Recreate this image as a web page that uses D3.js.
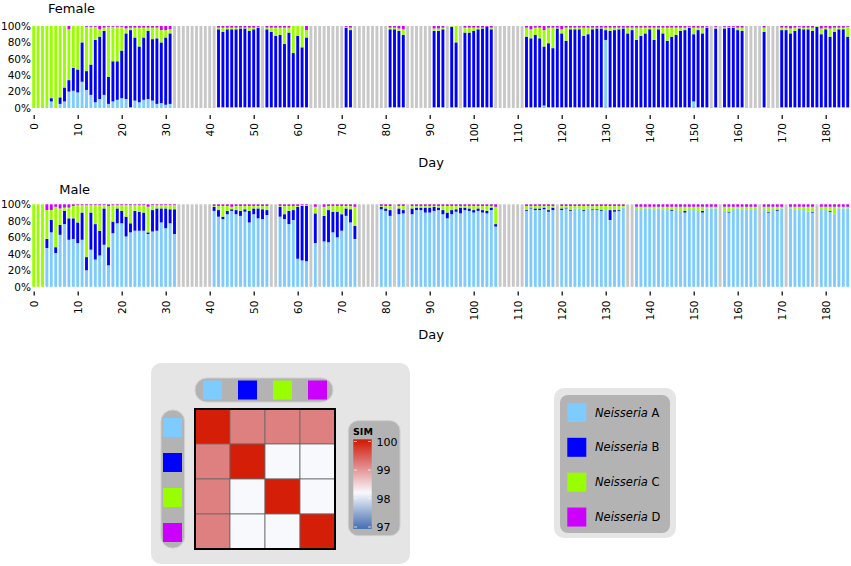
<!DOCTYPE html>
<html>
<head>
<meta charset="utf-8">
<script src="https://cdn.jsdelivr.net/npm/d3@7"></script>
<style>
  body { margin: 0; background: #fff; }
  text { font-family: "DejaVu Sans", sans-serif; }
</style>
</head>
<body>
<svg id="chart" width="851" height="566"></svg>
<script>
// missing sample
const _ = null;

const days = d3.range(0, 186);
const dayTicks = d3.range(0, 181, 10);
const pctTicks = [0, 0.2, 0.4, 0.6, 0.8, 1];
const speciesKeys = ['A', 'B', 'C', 'D'];
const speciesColors = ['#7ecbff', '#0000ff', '#99ff00', '#cc00ff'];
const missingColor = '#c8c8c8';

// Female, % per day (0..185)
const femaleA = [0,0,0,2,8,0,5,8,20,21, 19,32,22,16,7,11,16,5,8,10, 12,11,1,9,7,10,11,9,5,6,
  4,5,_,_,_,_,_,_,_,_, _,_,1,1,1,1,1,1,1,1, 1,1,_,1,1,1,1,1,1,1, 1,1,1,_,_,_,_,_,_,_,
  _,1,1,_,_,_,_,_,_,_, _,1,1,1,1,_,_,_,_,_, _,1,1,1,_,1,1,_,1,1, 1,1,1,1,1,_,_,_,_,_,
  _,_,1,1,1,1,3,1,1,1, 1,1,1,1,1,1,1,1,1,1, 83,1,1,1,1,1,1,1,1,1, 1,1,1,1,1,1,1,1,1,1,
  8,1,1,1,_,1,_,1,1,1, 1,1,_,_,_,_,1,_,_,_, 1,1,1,1,1,1,1,1,1,1, 1,1,1,1,1,1];
const femaleB = [0,0,0,0,4,0,8,17,14,28, 28,48,23,37,76,76,78,33,49,47, 58,80,94,77,68,76,83,75,80,74,
  82,86,_,_,_,_,_,_,_,_, _,_,95,92,95,95,95,96,96,93, 95,97,_,95,92,87,88,77,91,66, 87,73,85,_,_,_,_,_,_,_,
  _,97,94,_,_,_,_,_,_,_, _,95,95,93,88,_,_,_,_,_, _,93,93,95,_,98,79,_,91,91, 93,95,96,98,95,_,_,_,_,_,
  _,_,86,84,88,84,72,78,72,96, 90,81,95,95,95,87,89,95,96,96, 12,93,94,95,96,90,94,82,87,90, 95,82,95,90,81,86,88,93,94,97,
  82,94,90,97,_,96,_,96,97,97, 94,93,_,_,_,_,92,_,_,_, 94,94,90,93,96,95,95,93,98,89, 95,86,92,95,95,86];
const femaleC = [100,100,100,98,88,100,87,75,62,51, 53,20,54,46,16,9,4,61,42,42, 29,6,3,12,23,12,4,14,13,15,
  9,5,_,_,_,_,_,_,_,_, _,_,2,5,2,2,2,1,1,4, 2,1,_,2,5,10,9,20,6,33, 12,26,9,_,_,_,_,_,_,_,
  _,1,3,_,_,_,_,_,_,_, _,2,2,3,7,_,_,_,_,_, _,3,3,2,_,1,20,_,6,6, 4,2,1,0,2,_,_,_,_,_,
  _,_,11,11,9,13,20,19,25,1, 5,16,2,2,2,10,8,2,1,1, 3,4,3,2,1,7,3,15,10,7, 2,15,2,7,16,11,9,4,3,1,
  8,3,7,1,_,2,_,2,1,1, 3,4,_,_,_,_,5,_,_,_, 3,3,6,4,2,2,2,4,1,7, 2,10,5,2,2,12];
const femaleD = [0,0,0,0,0,0,0,0,4,0, 0,0,1,1,1,4,2,1,1,1, 1,3,2,2,2,2,2,2,2,5,
  5,4,_,_,_,_,_,_,_,_, _,_,2,2,2,2,2,2,2,2, 2,1,_,2,2,2,2,2,2,0, 0,0,5,_,_,_,_,_,_,_,
  _,1,2,_,_,_,_,_,_,_, _,2,2,3,4,_,_,_,_,_, _,3,3,2,_,0,0,_,2,2, 2,2,2,1,2,_,_,_,_,_,
  _,_,2,4,2,2,5,2,2,2, 4,2,2,2,2,2,2,2,2,2, 2,2,2,2,2,2,2,2,2,2, 2,2,2,2,2,2,2,2,2,1,
  2,2,2,1,_,1,_,1,1,1, 2,2,_,_,_,_,2,_,_,_, 2,2,3,2,1,2,2,2,0,3, 2,3,2,2,2,1];

// Male, % per day (0..185)
const maleA = [0,0,0,47,66,41,63,76,57,58, 53,57,20,45,33,38,51,26,65,77, 77,61,66,68,68,68,64,67,68,78,
  71,77,64,_,_,_,_,_,_,_, _,92,85,82,88,92,88,86,91,78, 88,83,82,87,_,_,85,82,76,81, 34,32,31,_,53,_,55,54,66,60,
  68,86,78,58,_,_,_,_,_,94, 92,86,_,88,89,_,88,93,93,90, 90,92,93,88,83,88,91,89,93,92, 90,92,90,89,93,73,_,_,_,_,
  _,_,92,95,93,93,94,91,93,_, 93,95,92,95,95,92,95,93,93,92, 93,81,91,92,96,_,_,94,93,95, 95,94,95,94,93,92,93,92,90,94,
  93,92,90,95,95,95,_,92,90,94, 95,94,94,94,94,_,93,90,93,92, 95,_,95,94,93,93,91,90,_,93, 93,91,88,95,95,95];
const maleB = [0,0,0,11,15,7,12,16,26,25, 25,33,16,45,43,30,44,22,14,18, 15,24,11,24,23,22,2,26,27,17,
  24,17,30,_,_,_,_,_,_,_, _,5,8,3,4,2,5,6,3,14, 7,12,12,6,_,_,12,6,16,12, 63,66,67,_,36,_,31,39,25,31,
  20,9,16,16,_,_,_,_,_,3, 3,7,_,7,4,_,7,3,3,6, 6,5,3,5,7,5,3,7,3,3, 3,3,3,3,3,3,_,_,_,_,
  _,_,1,1,2,2,2,2,3,_, 2,1,1,0,0,1,0,1,1,1, 0,12,2,1,0,_,_,0,0,0, 0,0,0,0,0,1,0,0,2,0,
  0,0,2,0,0,0,_,0,1,0, 0,0,0,0,0,_,0,1,0,1, 0,_,0,0,0,0,0,1,_,0, 0,1,0,0,0,0];
const maleC = [100,100,100,35,12,49,20,4,13,15, 21,9,63,9,23,31,4,50,20,4, 7,14,22,7,8,9,31,6,4,4,
  4,5,5,_,_,_,_,_,_,_, _,1,5,13,6,3,5,6,4,6, 3,3,4,5,_,_,1,10,6,5, 1,1,1,_,8,_,11,5,7,7,
  10,3,4,23,_,_,_,_,_,1, 3,5,_,3,5,_,3,2,2,2, 2,1,2,5,8,5,4,2,2,3, 5,3,5,6,2,21,_,_,_,_,
  _,_,5,2,3,3,2,5,2,_, 3,2,5,3,3,5,3,4,4,5, 5,5,5,5,2,_,_,3,4,2, 2,3,2,3,4,4,4,5,5,3,
  4,5,5,2,2,2,_,5,6,3, 2,3,3,3,3,_,4,6,4,4, 2,_,2,3,4,4,6,6,_,4, 4,5,9,2,2,2];
const maleD = [0,0,0,7,7,3,5,4,4,2, 1,1,1,1,1,1,1,2,1,1, 1,1,1,1,1,1,3,1,1,1,
  1,1,1,_,_,_,_,_,_,_, _,2,2,2,2,3,2,2,2,2, 2,2,2,2,_,_,2,2,2,2, 2,1,1,_,3,_,3,2,2,2,
  2,2,2,3,_,_,_,_,_,2, 2,2,_,2,2,_,2,2,2,2, 2,2,2,2,2,2,2,2,2,2, 2,2,2,2,2,3,_,_,_,_,
  _,_,2,2,2,2,2,2,2,_, 2,2,2,2,2,2,2,2,2,2, 2,2,2,2,2,_,_,3,3,3, 3,3,3,3,3,3,3,3,3,3,
  3,3,3,3,3,3,_,3,3,3, 3,3,3,3,3,_,3,3,3,3, 3,_,3,3,3,3,3,3,_,3, 3,3,3,3,3,3];

// similarity between species (SIM)
const simMatrix = [
  [100, 99.2, 99.2, 99.2],
  [99.2, 100, 98.2, 98.2],
  [99.2, 98.2, 100, 98.2],
  [99.2, 98.2, 98.2, 100]
];
const simTicks = [97, 98, 99, 100];

const svg = d3.select('#chart');
svg.append('rect').attr('width', 851).attr('height', 566).attr('fill', '#fff');

const x = d3.scaleLinear().domain([0, 185]).range([33.7, 847.7]);
const barW = 2.9;

function drawPanel(p) {
  const y = d3.scaleLinear().domain([0, 1]).range([p.bottom, p.top]);
  const g = svg.append('g');

  const rows = days.filter(d => p.series[0][d] !== null).map(d => {
    const r = { day: d };
    speciesKeys.forEach((k, i) => r[k] = p.series[i][d]);
    return r;
  });
  const missing = days.filter(d => p.series[0][d] === null);

  g.selectAll('.miss').data(missing).enter().append('rect')
    .attr('x', d => x(d) - barW / 2)
    .attr('y', y(1))
    .attr('width', barW)
    .attr('height', y(0) - y(1))
    .attr('fill', missingColor);

  const stack = d3.stack().keys(speciesKeys).offset(d3.stackOffsetExpand)(rows);
  const layer = g.selectAll('.layer').data(stack).enter().append('g')
    .attr('fill', (d, i) => speciesColors[i]);
  layer.selectAll('rect').data(d => d).enter().append('rect')
    .attr('x', d => x(d.data.day) - barW / 2)
    .attr('y', d => y(d[1]))
    .attr('width', barW)
    .attr('height', d => Math.max(0, y(d[0]) - y(d[1])));

  const ya = g.append('g').attr('transform', 'translate(31,0)')
    .call(d3.axisLeft(y).tickValues(pctTicks).tickFormat(d3.format('.0%')).tickSize(0).tickPadding(0));
  ya.select('.domain').remove();
  ya.selectAll('text').attr('font-size', 10.5).attr('fill', '#000')
    .style('font-family', '"DejaVu Sans", sans-serif');

  const xa = g.append('g').attr('transform', `translate(0,${p.tickY})`)
    .call(d3.axisBottom(x).tickValues(dayTicks).tickSize(4));
  xa.select('.domain').remove();
  xa.selectAll('line').attr('stroke', '#000').attr('stroke-width', 1.2);
  xa.selectAll('text')
    .attr('transform', 'rotate(-90)')
    .attr('x', -p.labelGap).attr('y', 0).attr('dy', '0.35em')
    .style('text-anchor', 'end')
    .attr('font-size', 10.5).attr('fill', '#000')
    .style('font-family', '"DejaVu Sans", sans-serif');

  g.append('text').attr('x', p.titleX).attr('y', p.titleY)
    .attr('font-size', 13).text(p.title);
  g.append('text').attr('x', 431).attr('y', p.dayY)
    .attr('text-anchor', 'middle').attr('font-size', 13).text('Day');
}

drawPanel({ title: 'Female', series: [femaleA, femaleB, femaleC, femaleD],
  top: 26, bottom: 108, tickY: 115, labelGap: 8, titleX: 48, titleY: 12.5, dayY: 166.5 });
drawPanel({ title: 'Male', series: [maleA, maleB, maleC, maleD],
  top: 204.3, bottom: 286.8, tickY: 291.5, labelGap: 9, titleX: 59.3, titleY: 194, dayY: 339 });

// ---- similarity heatmap ----
const hm = svg.append('g');
hm.append('rect').attr('x', 151).attr('y', 363).attr('width', 259).attr('height', 201)
  .attr('rx', 10).attr('fill', '#e5e5e5');

const cellX = d3.scaleBand().domain(speciesKeys).range([195, 335]);
const cellY = d3.scaleBand().domain(speciesKeys).range([409, 549]);
const simColor = d3.scaleLinear().domain([97, 98.2, 99.2, 100])
  .range(['#4d74b4', '#f8f9fd', '#df8080', '#d41e08']);
const sw = 19;

hm.append('rect').attr('x', 195).attr('y', 378).attr('width', 138).attr('height', 24)
  .attr('rx', 12).attr('fill', '#b3b3b3').attr('stroke', '#cfcfcf');
hm.selectAll('.tsw').data(speciesKeys).enter().append('rect')
  .attr('x', d => cellX(d) + cellX.bandwidth() / 2 - sw / 2).attr('y', 380.5)
  .attr('width', sw).attr('height', sw)
  .attr('fill', (d, i) => speciesColors[i]);

hm.append('rect').attr('x', 161).attr('y', 410).attr('width', 23.5).attr('height', 138)
  .attr('rx', 11.5).attr('fill', '#b3b3b3').attr('stroke', '#cfcfcf');
hm.selectAll('.lsw').data(speciesKeys).enter().append('rect')
  .attr('x', 163).attr('y', d => cellY(d) + cellY.bandwidth() / 2 - sw / 2 + 1)
  .attr('width', sw).attr('height', sw)
  .attr('fill', (d, i) => speciesColors[i]);

const cells = [];
simMatrix.forEach((row, i) => row.forEach((v, j) => cells.push({ r: speciesKeys[i], c: speciesKeys[j], v })));
hm.selectAll('.cell').data(cells).enter().append('rect')
  .attr('x', d => cellX(d.c)).attr('y', d => cellY(d.r))
  .attr('width', cellX.bandwidth()).attr('height', cellY.bandwidth())
  .attr('fill', d => simColor(d.v)).attr('stroke', '#666').attr('stroke-width', 0.8);
hm.append('rect').attr('x', 195).attr('y', 409).attr('width', 140).attr('height', 140)
  .attr('fill', 'none').attr('stroke', '#000').attr('stroke-width', 2);

// colour key
hm.append('rect').attr('x', 348.3).attr('y', 420.7).attr('width', 51.7).attr('height', 115)
  .attr('rx', 10).attr('fill', '#b3b3b3').attr('stroke', '#cfcfcf');
const simY = d3.scaleLinear().domain([97, 100]).range([527, 441.5]);
const grad = svg.append('defs').append('linearGradient').attr('id', 'simGrad')
  .attr('gradientUnits', 'userSpaceOnUse')
  .attr('x1', 0).attr('x2', 0).attr('y1', simY(97)).attr('y2', simY(100));
grad.selectAll('stop').data(d3.range(0, 31)).enter().append('stop')
  .attr('offset', d => d / 30)
  .attr('stop-color', d => simColor(97 + d / 10));
hm.append('rect').attr('x', 353.3).attr('y', 439.3).attr('width', 18.4).attr('height', 89.7)
  .attr('fill', 'url(#simGrad)');
hm.selectAll('.ktick').data(simTicks).enter().append('path')
  .attr('d', d => `M354,${simY(d)}h3M368,${simY(d)}h3`)
  .attr('stroke', '#f2f2f2').attr('stroke-width', 0.8);
hm.append('text').attr('x', 353).attr('y', 435.3).attr('font-size', 9.5)
  .attr('font-weight', 'bold').text('SIM');
const ka = hm.append('g').attr('transform', 'translate(375,0)')
  .call(d3.axisRight(simY).tickValues(simTicks).tickFormat(d3.format('d')).tickSize(0).tickPadding(1.5));
ka.select('.domain').remove();
ka.selectAll('text').attr('font-size', 11).attr('fill', '#000')
  .style('font-family', '"DejaVu Sans", sans-serif');

// ---- species legend ----
const lg = svg.append('g');
lg.append('rect').attr('x', 554).attr('y', 388).attr('width', 122).attr('height', 150)
  .attr('rx', 10).attr('fill', '#e5e5e5');
lg.append('rect').attr('x', 560).attr('y', 395).attr('width', 110).attr('height', 138)
  .attr('rx', 8).attr('fill', '#b3b3b3');
const legY = d3.scaleBand().domain(speciesKeys).range([395, 534.5]);
const item = lg.selectAll('.item').data(speciesKeys).enter().append('g')
  .attr('transform', d => `translate(0,${legY(d) + legY.bandwidth() / 2})`);
item.append('rect').attr('x', 567.3).attr('y', -sw / 2).attr('width', sw).attr('height', sw)
  .attr('fill', (d, i) => speciesColors[i]);
const lt = item.append('text').attr('x', 595).attr('dy', '0.36em').attr('font-size', 11.5);
lt.append('tspan').attr('font-style', 'italic').text('Neisseria');
lt.append('tspan').text(d => ' ' + d);
</script>
</body>
</html>
